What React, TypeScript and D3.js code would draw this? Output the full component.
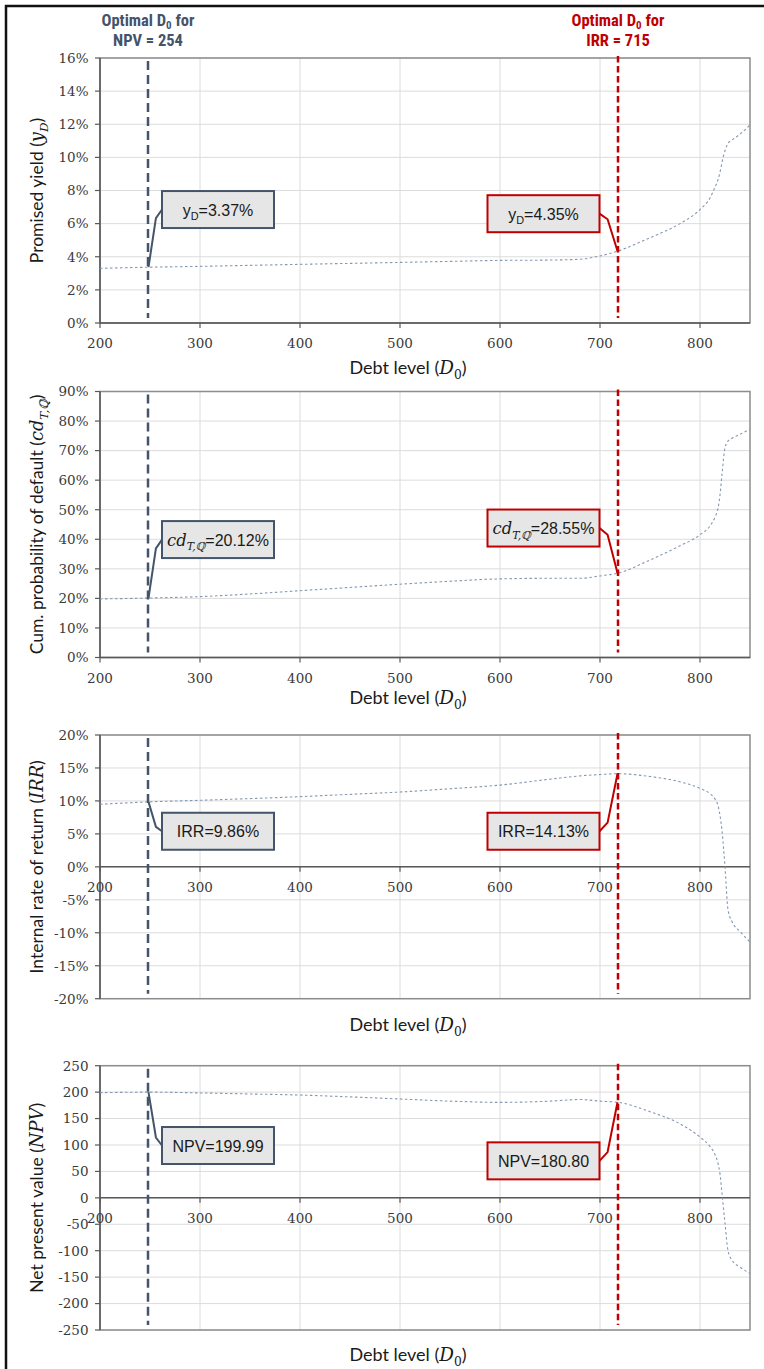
import React from 'react';
import * as d3 from 'd3';

// ---------- data ----------
const debtLevels = [200, 250, 300, 350, 400, 450, 500, 550, 600, 650, 680, 700, 718, 750, 780, 800, 810, 815, 818, 820, 822, 825, 828, 832, 840, 850];
const promisedYield = [3.30, 3.37, 3.42, 3.48, 3.54, 3.60, 3.66, 3.72, 3.78, 3.80, 3.85, 4.05, 4.35, 5.15, 6.0, 6.85, 7.55, 8.2, 8.65, 9.1, 9.7, 10.4, 10.85, 11.05, 11.4, 11.96];
const cumDefaultProb = [19.8, 20.12, 20.6, 21.5, 22.6, 23.7, 24.8, 25.8, 26.6, 26.8, 26.8, 27.6, 28.55, 33.0, 37.8, 41.5, 44.5, 47.5, 50.5, 55.0, 62.0, 71.0, 73.2, 74.2, 75.5, 77.3];
const irrValues = [9.5, 9.86, 10.1, 10.35, 10.65, 11.0, 11.35, 11.85, 12.4, 13.3, 13.8, 14.0, 14.13, 13.7, 12.9, 11.9, 11.1, 10.3, 9.3, 7.8, 5.5, 0.0, -6.5, -8.3, -9.8, -11.4];
const npvValues = [199.0, 199.99, 198.5, 196.5, 194.5, 191.0, 187.0, 183.0, 180.6, 183.0, 186.0, 183.0, 180.8, 163.0, 140.0, 115.0, 97.0, 82.0, 65.0, 45.0, 8.0, -48.0, -100.0, -118.0, -131.0, -143.0];

const xTicks = [200, 300, 400, 500, 600, 700, 800];
const yieldTicks = [0, 2, 4, 6, 8, 10, 12, 14, 16];
const cpdTicks = [0, 10, 20, 30, 40, 50, 60, 70, 80, 90];
const irrTicks = [-20, -15, -10, -5, 0, 5, 10, 15, 20];
const npvTicks = [-250, -200, -150, -100, -50, 0, 50, 100, 150, 200, 250];

const optimalNpvLine = 248;
const optimalIrrLine = 718;
const npvOptimumLabel = 'NPV = 254';
const irrOptimumLabel = 'IRR = 715';

const blueCalloutValues = [3.37, 20.12, 9.86, 199.99];
const redCalloutValues = [4.35, 28.55, 14.13, 180.80];

// ---------- style ----------
const SLATE = '#44546a';
const RED = '#c00000';
const CURVE = '#8497b0';
const GRID = '#dcdcdc';
const TICKFONT = '"DejaVu Serif", serif';
const SANS = '"Liberation Sans", Arial, sans-serif';
const TITLEFONT = 'Lato, "Open Sans", sans-serif';
const MATHFONT = '"DejaVu Serif", serif';

const x = d3.scaleLinear().domain([200, 850]).range([100, 750]);

type Part = { t: string; sub?: boolean; italic?: boolean; math?: boolean };

const pct = (v: number) => `${v}%`;
const num = (v: number) => `${v}`;

const panels = [
  {
    values: promisedYield, domain: [0, 16], ticks: yieldTicks, fmt: pct, top: 58, bottom: 323, xTitleY: 374,
    title: [{ t: 'Promised yield (' }, { t: 'y', italic: true, math: true }, { t: 'D', italic: true, math: true, sub: true }, { t: ')' }] as Part[],
    blueLabel: (v: number) => [{ t: 'y' }, { t: 'D', sub: true }, { t: `=${v.toFixed(2)}%` }] as Part[],
    redLabel: (v: number) => [{ t: 'y' }, { t: 'D', sub: true }, { t: `=${v.toFixed(2)}%` }] as Part[],
    blueBoxY: 6.85, redBoxY: 6.6,
  },
  {
    values: cumDefaultProb, domain: [0, 90], ticks: cpdTicks, fmt: pct, top: 391.5, bottom: 657.5, xTitleY: 704,
    title: [{ t: 'Cum. probability of default (' }, { t: 'cd', italic: true, math: true }, { t: 'T,ℚ', italic: true, math: true, sub: true }, { t: ')' }] as Part[],
    blueLabel: (v: number) => [{ t: 'cd', italic: true, math: true }, { t: 'T,ℚ', italic: true, math: true, sub: true }, { t: `=${v.toFixed(2)}%` }] as Part[],
    redLabel: (v: number) => [{ t: 'cd', italic: true, math: true }, { t: 'T,ℚ', italic: true, math: true, sub: true }, { t: `=${v.toFixed(2)}%` }] as Part[],
    blueBoxY: 39.9, redBoxY: 43.8,
  },
  {
    values: irrValues, domain: [-20, 20], ticks: irrTicks, fmt: pct, top: 735, bottom: 998.7, xTitleY: 1031,
    title: [{ t: 'Internal rate of return (' }, { t: 'IRR', italic: true, math: true }, { t: ')' }] as Part[],
    blueLabel: (v: number) => [{ t: `IRR=${v.toFixed(2)}%` }] as Part[],
    redLabel: (v: number) => [{ t: `IRR=${v.toFixed(2)}%` }] as Part[],
    blueBoxY: 5.4, redBoxY: 5.4,
  },
  {
    values: npvValues, domain: [-250, 250], ticks: npvTicks, fmt: num, top: 1065.7, bottom: 1330, xTitleY: 1361,
    title: [{ t: 'Net present value (' }, { t: 'NPV', italic: true, math: true }, { t: ')' }] as Part[],
    blueLabel: (v: number) => [{ t: `NPV=${v.toFixed(2)}` }] as Part[],
    redLabel: (v: number) => [{ t: `NPV=${v.toFixed(2)}` }] as Part[],
    blueBoxY: 99, redBoxY: 70,
  },
];

function renderParts(parts: Part[], size: number, baseFont: string) {
  const out: React.ReactNode[] = [];
  let shifted = false;
  parts.forEach((p, i) => {
    const base = p.math && p.italic && !p.sub ? size * 1.02 : size;
    const fs = p.sub ? size * 0.68 : base;
    let dy = 0;
    if (p.sub && !shifted) { dy = size * 0.28; shifted = true; }
    else if (!p.sub && shifted) { dy = -size * 0.28; shifted = false; }
    out.push(
      <tspan key={i} dy={dy || undefined} fontSize={fs}
        fontStyle={p.italic ? 'italic' : 'normal'}
        fontFamily={p.math ? MATHFONT : baseFont}>{p.t}</tspan>
    );
  });
  return out;
}

const BOX_W = 112;
const BOX_H = 37;
const blueBoxLeft = x(262);
const redBoxLeft = x(587.5);

function Panel({ p, idx }: { p: typeof panels[number]; idx: number }) {
  const y = d3.scaleLinear().domain(p.domain).range([p.bottom, p.top]);
  const line = d3.line<number>().x((_, i) => x(debtLevels[i])).y(v => y(v)).curve(d3.curveMonotoneX);
  const y0 = y(0);
  const xb = x(optimalNpvLine);
  const xr = x(optimalIrrLine);
  const bv = blueCalloutValues[idx];
  const rv = redCalloutValues[idx];

  const callout = (left: number, cy: number, side: 'left' | 'right', px: number, py: number, color: string, parts: Part[]) => {
    const sx = side === 'left' ? left : left + BOX_W;
    const sy = cy;
    const ex = sx + (px - sx) * 0.45;
    const ey = sy + (py - sy) * 0.15;
    return (
      <g>
        <path d={`M${sx},${sy}L${ex},${ey}L${px},${py}`} fill="none" stroke={color} strokeWidth={2} />
        <rect x={left} y={cy - BOX_H / 2} width={BOX_W} height={BOX_H} fill="#e6e6e6" stroke={color} strokeWidth={2} />
        <text x={left + BOX_W / 2} y={cy + 6} textAnchor="middle" fontFamily={SANS} fontSize={16} fill="#1a1a1a">
          {renderParts(parts, 16, SANS)}
        </text>
      </g>
    );
  };

  return (
    <g>
      {xTicks.map(t => (
        <line key={'gx' + t} x1={x(t)} x2={x(t)} y1={p.top} y2={p.bottom} stroke={GRID} strokeWidth={1} />
      ))}
      {p.ticks.map(t => (
        <line key={'gy' + t} x1={100} x2={750} y1={y(t)} y2={y(t)} stroke={GRID} strokeWidth={1} />
      ))}
      <rect x={100} y={p.top} width={650} height={p.bottom - p.top} fill="none" stroke="#8c8c8c" strokeWidth={1.5} />
      <line x1={100} x2={100} y1={p.top} y2={p.bottom} stroke="#595959" strokeWidth={1.5} />
      <line x1={100} x2={750} y1={y0} y2={y0} stroke="#595959" strokeWidth={1.5} />
      {p.ticks.map(t => (
        <g key={'ty' + t}>
          <line x1={95} x2={100} y1={y(t)} y2={y(t)} stroke="#595959" strokeWidth={1.2} />
          <text x={88.5} y={y(t)} dy="0.36em" textAnchor="end" fontFamily={TICKFONT} fontSize={13.5} fill="#3a3a3a">{p.fmt(t)}</text>
        </g>
      ))}
      {xTicks.map(t => (
        <g key={'tx' + t}>
          <line x1={x(t)} x2={x(t)} y1={y0} y2={y0 + 5} stroke="#595959" strokeWidth={1.2} />
          <text x={x(t)} y={y0 + 25} textAnchor="middle" fontFamily={TICKFONT} fontSize={13.5} fill="#3a3a3a">{t}</text>
        </g>
      ))}
      <path d={line(p.values) || ''} fill="none" stroke={CURVE} strokeWidth={1.1} strokeDasharray="2.5,2.5" />
      <line x1={xb} x2={xb} y1={p.top + 3} y2={p.bottom - 5} stroke={SLATE} strokeWidth={2.5} strokeDasharray="9,5" />
      <line x1={xr} x2={xr} y1={p.top - 2} y2={p.bottom - 5} stroke={RED} strokeWidth={2.5} strokeDasharray="6.5,3.5" />
      {callout(blueBoxLeft, y(p.blueBoxY), 'left', xb + 0.5, y(bv), SLATE, p.blueLabel(bv))}
      {callout(redBoxLeft, y(p.redBoxY), 'right', xr - 0.5, y(rv), RED, p.redLabel(rv))}
      <text transform={`translate(43,${(p.top + p.bottom) / 2}) rotate(-90)`} textAnchor="middle" fontFamily={TITLEFONT} fontSize={17.5} fill="#1a1a1a">
        {renderParts(p.title, 17.5, TITLEFONT)}
      </text>
      <text x={(100 + 750) / 2 - 17} y={p.xTitleY} textAnchor="middle" fontFamily={TITLEFONT} fontSize={18} fill="#1a1a1a">
        {renderParts([{ t: 'Debt level (' }, { t: 'D', italic: true, math: true }, { t: '0', math: true, sub: true }, { t: ')' }], 18, TITLEFONT)}
      </text>
    </g>
  );
}

export default function App() {
  const headerFont = '"Liberation Sans Narrow", "Arial Narrow", "Roboto Condensed", "Liberation Sans", sans-serif';
  const header = (cx: number, color: string, second: string) => (
    <g fill={color} fontFamily={headerFont} fontWeight="bold" fontSize={16.5} textAnchor="middle" style={{ fontStretch: 'condensed' }}>
      <text x={cx} y={26}>
        <tspan>Optimal D</tspan>
        <tspan dy={3} fontSize={11}>0</tspan>
        <tspan dy={-3}> for</tspan>
      </text>
      <text x={cx} y={46}>{second}</text>
    </g>
  );
  return (
    <svg width={764} height={1369} style={{ position: 'absolute', left: 0, top: 0, background: '#fff' }}>
      <rect x={0} y={0} width={764} height={1369} fill="#fff" />
      <rect x={6} y={6} width={800} height={1420} fill="none" stroke="#111" strokeWidth={2.5} />
      {header(x(optimalNpvLine), SLATE, npvOptimumLabel)}
      {header(x(optimalIrrLine), RED, irrOptimumLabel)}
      {panels.map((p, i) => <Panel key={i} p={p} idx={i} />)}
    </svg>
  );
}
